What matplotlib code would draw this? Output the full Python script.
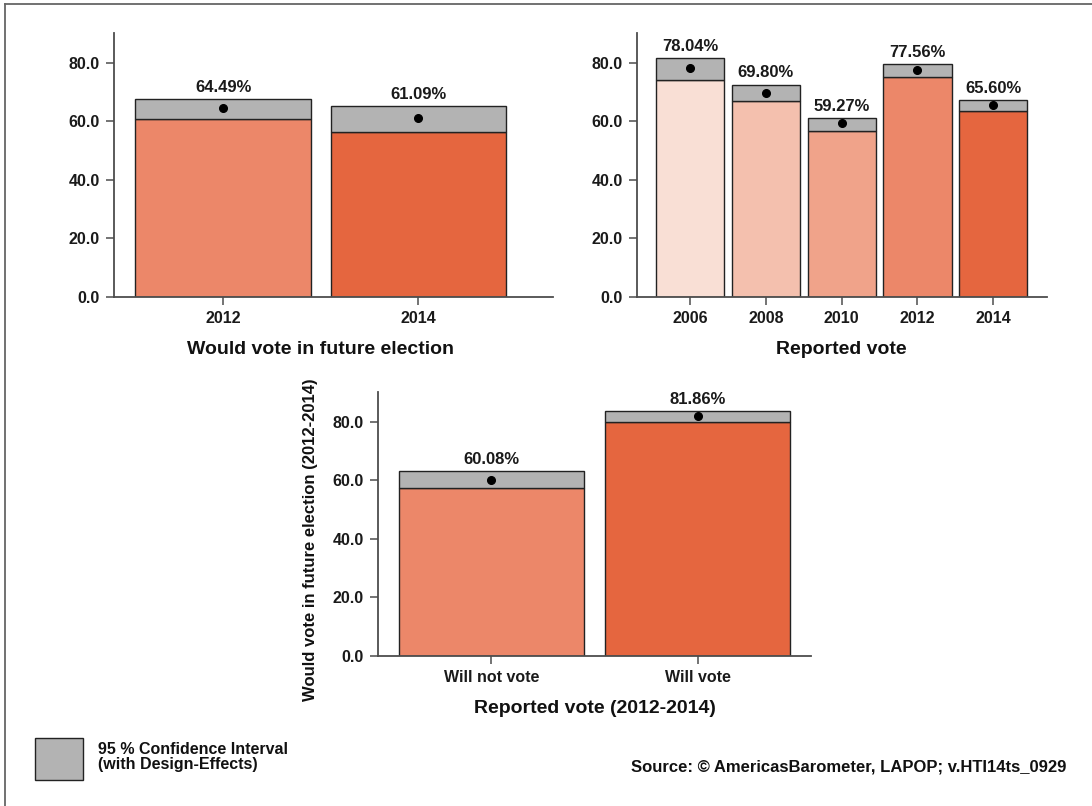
import matplotlib
matplotlib.use("Agg")
import matplotlib.pyplot as plt
from matplotlib.lines import Line2D
from matplotlib.patches import Rectangle
from matplotlib.transforms import blended_transform_factory

plt.rcParams['font.family'] = ['Liberation Sans', 'DejaVu Sans']

# future vote by year
future_years = ['2012', '2014']
future_mean = [64.49, 61.09]
future_lo = [60.9, 56.4]
future_hi = [67.6, 65.3]
future_colors = ['#ec8769', '#e5663f']

# reported vote by year
reported_years = ['2006', '2008', '2010', '2012', '2014']
reported_mean = [78.04, 69.80, 59.27, 77.56, 65.60]
reported_lo = [74.1, 67.0, 56.8, 75.2, 63.6]
reported_hi = [81.7, 72.5, 61.2, 79.6, 67.3]
reported_colors = ['#f9dfd5', '#f4c0ae', '#f0a38a', '#ec8769', '#e5663f']

# future vote by reported vote
by_cats = ['Will not vote', 'Will vote']
by_mean = [60.08, 81.86]
by_lo = [57.2, 80.0]
by_hi = [63.0, 83.5]
by_colors = ['#ec8769', '#e5663f']

W, H = 1092, 806
AX_COLOR = '#4d4d4d'


def draw_panel(ax, cats, mean, lo, hi, colors, xlim, title):
    x = list(range(len(cats)))
    ax.bar(x, lo, width=0.9, color=colors, edgecolor='#222222', linewidth=1.0, zorder=2)
    ax.bar(x, [h - l for h, l in zip(hi, lo)], bottom=lo, width=0.9,
           color='#b3b3b3', edgecolor='#222222', linewidth=1.0, zorder=2)
    ax.plot(x, mean, 'o', color='black', markersize=5.5, zorder=3)
    for xi, m, h in zip(x, mean, hi):
        ax.annotate('%.2f%%' % m, (xi, h), xytext=(0, 3), textcoords='offset points',
                    ha='center', va='bottom', fontsize=12, fontweight='bold', color='#1a1a1a')
    ax.set_xlim(*xlim)
    ax.set_ylim(0, 90)
    ax.set_yticks([0, 20, 40, 60, 80])
    ax.set_yticklabels(['%.1f' % v for v in [0, 20, 40, 60, 80]])
    ax.set_xticks(x)
    ax.set_xticklabels(cats)
    for s in ['top', 'right']:
        ax.spines[s].set_visible(False)
    for s in ['left', 'bottom']:
        ax.spines[s].set_color(AX_COLOR)
        ax.spines[s].set_linewidth(1.3)
    ax.tick_params(length=6, width=1.1, color=AX_COLOR, labelsize=11.5, pad=4)
    for lab in ax.get_xticklabels() + ax.get_yticklabels():
        lab.set_fontweight('bold')
        lab.set_color('#1a1a1a')
    tr = blended_transform_factory(ax.transData, ax.transAxes)
    ax.text((len(cats) - 1) / 2, -0.2, title, transform=tr, ha='center', va='center',
            fontsize=14, fontweight='bold', color='#111111')


fig = plt.figure(figsize=(W / 100, H / 100), dpi=100)

ax1 = fig.add_axes([114 / W, 1 - 297 / H, (553 - 114) / W, 263.6 / H])
draw_panel(ax1, future_years, future_mean, future_lo, future_hi, future_colors,
           (-0.56, 1.69), 'Would vote in future election')

ax2 = fig.add_axes([637 / W, 1 - 297 / H, (1047 - 637) / W, 263.6 / H])
draw_panel(ax2, reported_years, reported_mean, reported_lo, reported_hi, reported_colors,
           (-0.70, 4.71), 'Reported vote')

ax3 = fig.add_axes([378 / W, 1 - 656 / H, (811 - 378) / W, 263.6 / H])
draw_panel(ax3, by_cats, by_mean, by_lo, by_hi, by_colors,
           (-0.55, 1.55), 'Reported vote (2012-2014)')
fig.text(310 / W, 1 - 540 / H, 'Would vote in future election (2012-2014)', rotation=90,
         ha='center', va='center', fontsize=12, fontweight='bold', color='#111111')

# outer frame (top and left edges)
fig.add_artist(Line2D([5 / W, 1], [1 - 4 / H, 1 - 4 / H], color='#666666', linewidth=1.3))
fig.add_artist(Line2D([5 / W, 5 / W], [0, 1 - 4 / H], color='#666666', linewidth=1.3))

# legend
fig.add_artist(Rectangle((35 / W, 1 - 780 / H), 48 / W, 42 / H, facecolor='#b3b3b3',
                         edgecolor='#222222', linewidth=1.0))
fig.text(98 / W, 1 - 750 / H, '95 % Confidence Interval', ha='left', va='center',
         fontsize=11.5, fontweight='bold', color='#111111')
fig.text(98 / W, 1 - 764 / H, '(with Design-Effects)', ha='left', va='center',
         fontsize=11.5, fontweight='bold', color='#111111')
fig.text(1066 / W, 1 - 767 / H, 'Source: \u00a9 AmericasBarometer, LAPOP; v.HTI14ts_0929',
         ha='right', va='center', fontsize=12, fontweight='bold', color='#111111')

fig.savefig('out.png', dpi=100)
